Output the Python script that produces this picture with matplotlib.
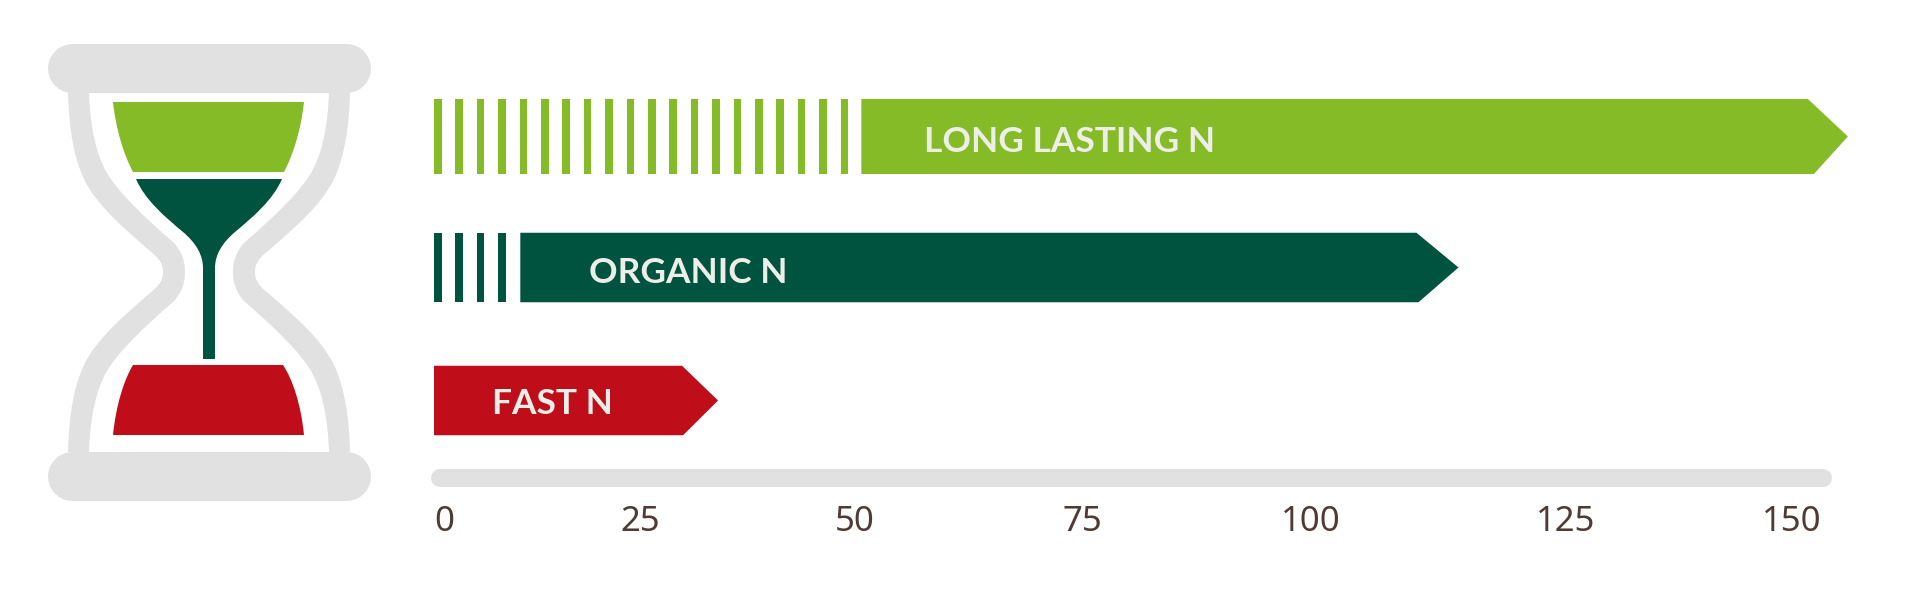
import numpy as np
import matplotlib
matplotlib.use("Agg")
import matplotlib.pyplot as plt
from matplotlib.path import Path
from matplotlib.patches import PathPatch, Polygon
from matplotlib.ticker import NullLocator, FixedFormatter

# --- data -------------------------------------------------------------
categories = ["LONG LASTING N", "ORGANIC N", "FAST N"]
solid_start = [52.9, 11.6, 0.0]      # where the solid part of the bar begins
tip_value = [159.5, 117.4, 36.4]     # where the arrow tip ends
stripe_count = [20, 4, 0]
tick_values = [0, 25, 50, 75, 100, 125, 150]
tick_labels = ["0", "25", "50", "75", "100", "125", "150"]

# --- style / layout ---------------------------------------------------
colors = ["#84BB26", "#00533E", "#C00D1A"]
gray = "#E1E1E1"
text_light = "#EEEEE8"
tick_color = "#4F3B33"
tick_px = [434, 620, 835, 1062, 1281, 1536, 1762]   # the axis is printed unevenly
row_center = [136.5, 267.5, 400.5]
row_height = [75, 69.5, 69.5]
head_top = [40, 42, 36]
head_bottom = [34, 40, 35]
label_px = [924, 589, 492]
label_base = [152, 283, 414]
stripe_period = 21.4
stripe_width = 7.6
W, H = 1920, 601
AX_BOTTOM = 487
PX = 0.72  # points per pixel at dpi 100


def fwd(v):
    v = np.asarray(v, dtype=float)
    out = np.interp(v, tick_values, tick_px)
    lo = (tick_px[1] - tick_px[0]) / (tick_values[1] - tick_values[0])
    hi = (tick_px[-1] - tick_px[-2]) / (tick_values[-1] - tick_values[-2])
    out = np.where(v < tick_values[0], tick_px[0] + (v - tick_values[0]) * lo, out)
    out = np.where(v > tick_values[-1], tick_px[-1] + (v - tick_values[-1]) * hi, out)
    return out


def inv(p):
    p = np.asarray(p, dtype=float)
    out = np.interp(p, tick_px, tick_values)
    lo = (tick_px[1] - tick_px[0]) / (tick_values[1] - tick_values[0])
    hi = (tick_px[-1] - tick_px[-2]) / (tick_values[-1] - tick_values[-2])
    out = np.where(p < tick_px[0], tick_values[0] + (p - tick_px[0]) / lo, out)
    out = np.where(p > tick_px[-1], tick_values[-1] + (p - tick_px[-1]) / hi, out)
    return out


fig = plt.figure(figsize=(W / 100, H / 100), dpi=100, facecolor="white")

# icon layer, in pixels
icon = fig.add_axes([0, 0, 1, 1])
icon.set_xlim(0, W)
icon.set_ylim(H, 0)
icon.axis("off")

# chart layer
ax = fig.add_axes([0, (H - AX_BOTTOM) / H, 1, AX_BOTTOM / H])
ax.patch.set_alpha(0)
ax.set_xscale("function", functions=(fwd, inv))
ax.set_xlim(float(inv(0)), float(inv(W)))
ax.set_ylim(AX_BOTTOM, 0)
for s in ax.spines.values():
    s.set_visible(False)
ax.set_yticks([])
ax.set_xticks(tick_values)
ax.xaxis.set_minor_locator(NullLocator())
ax.xaxis.set_major_formatter(FixedFormatter(tick_labels))
ax.tick_params(axis="x", length=0, pad=13)
for t in ax.get_xticklabels():
    t.set_ha("left")
    t.set_family("Noto Sans")
    t.set_fontsize(25)
    t.set_color(tick_color)

for i, name in enumerate(categories):
    c, h = row_center[i], row_height[i]
    top, bot = c - h / 2, c + h / 2
    for k in range(stripe_count[i]):
        x0 = tick_px[0] + k * stripe_period
        left = float(inv(x0))
        ax.barh(c, float(inv(x0 + stripe_width)) - left, left=left, height=h,
                color=colors[i], linewidth=0)
    tip_px = float(fwd(tip_value[i]))
    verts = [(solid_start[i], top),
             (float(inv(tip_px - head_top[i])), top),
             (tip_value[i], c),
             (float(inv(tip_px - head_bottom[i])), bot),
             (solid_start[i], bot)]
    ax.add_patch(Polygon(verts, closed=True, facecolor=colors[i], edgecolor="none"))
    ax.text(float(inv(label_px[i])), label_base[i], name, family="Lato", weight="bold",
            fontsize=25.4, color=text_light, ha="left", va="baseline")

# axis bar
icon.plot([440, 1823], [478, 478], color=gray, linewidth=18 * PX, solid_capstyle="round")


# --- hourglass --------------------------------------------------------
CX = 209
CY = 272


def mirror_x(pts):
    return [(2 * CX - x, y) for x, y in pts]


def mirror_y(pts):
    return [(x, 2 * CY - y) for x, y in pts]


outer = [(68, 92), (69, 130), (74, 158), (84, 179),
         (96, 205), (125, 229), (150, 251), (160, 259), (163, 264), (163, 272)]
inner = [(89, 92), (90, 125), (96, 155), (107, 173),
         (118, 192), (145, 218), (173, 242), (181, 250), (185, 260), (185, 272)]
outer_full = outer + mirror_y(outer)[::-1][1:]
inner_full = inner + mirror_y(inner)[::-1][1:]
band = outer_full + inner_full[::-1] + [outer_full[0]]
curve = [Path.CURVE4] * (len(outer_full) - 1)
band_codes = [Path.MOVETO] + curve + [Path.LINETO] + curve + [Path.LINETO]
for pts in (band, mirror_x(band)):
    icon.add_patch(PathPatch(Path(pts, band_codes), facecolor=gray, edgecolor="none"))
for yc in (67.5, 475.5):
    icon.plot([72, 346], [yc, yc], color=gray, linewidth=49 * PX,
              solid_capstyle="round", zorder=3)

# green sand
green = [(113, 102), (304, 102), (301, 130), (293, 155), (284, 172), (133, 172), (124, 155), (116, 130), (113, 102)]
g_codes = [Path.MOVETO, Path.LINETO, Path.CURVE4, Path.CURVE4, Path.CURVE4, Path.LINETO,
           Path.CURVE4, Path.CURVE4, Path.CURVE4]
icon.add_patch(PathPatch(Path(green, g_codes), facecolor=colors[0], edgecolor="none"))

# dark neck
left_neck = [(136, 179), (145, 200), (165, 217), (183, 232), (196, 243), (203, 255), (203, 268), (203, 359)]
right_neck = mirror_x(left_neck)[::-1]
neck = left_neck + right_neck + [left_neck[0]]
n_codes = [Path.MOVETO] + [Path.CURVE4] * 6 + [Path.LINETO, Path.LINETO, Path.LINETO] + [Path.CURVE4] * 6 + [Path.LINETO]
icon.add_patch(PathPatch(Path(neck, n_codes), facecolor=colors[1], edgecolor="none"))

# red sand
red = [(133, 365), (283, 365), (293, 380), (301, 405), (304, 435), (113, 435), (116, 405), (124, 380), (133, 365)]
icon.add_patch(PathPatch(Path(red, g_codes), facecolor=colors[2], edgecolor="none"))

fig.savefig("out.png", dpi=100, facecolor="white")
